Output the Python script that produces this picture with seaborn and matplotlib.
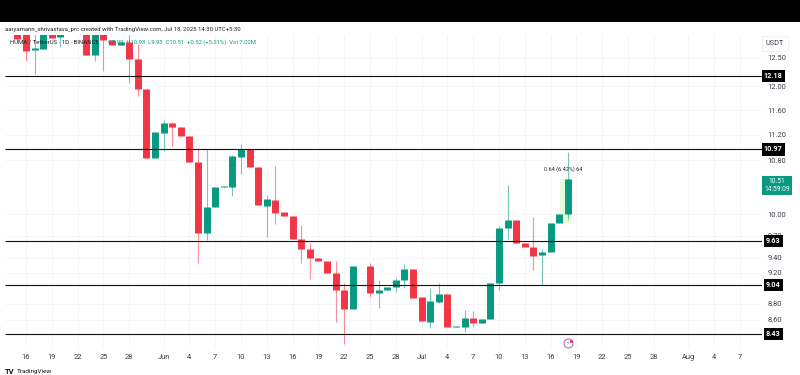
import matplotlib
matplotlib.use("Agg")
import matplotlib.pyplot as plt
import pandas as pd
import seaborn as sns

dates = ["05-15","05-16","05-17","05-18","05-19","05-20","05-23","05-24","05-25","05-26","05-27","05-28","05-29","05-30","05-31",
         "06-01","06-02","06-03","06-04","06-05","06-06","06-07","06-08","06-09","06-10","06-11","06-12","06-13","06-14","06-15",
         "06-16","06-17","06-18","06-19","06-20","06-21","06-22","06-23","06-25","06-26","06-27","06-28","06-29","06-30",
         "07-01","07-02","07-03","07-04","07-05","07-06","07-07","07-08","07-09","07-10","07-11","07-12","07-13","07-14","07-15","07-16","07-17","07-18"]
opens = [13.00,12.95,12.64,12.66,12.95,12.87,13.00,12.55,13.00,12.82,12.74,12.785,12.48,11.95,10.83,
         11.23,11.39,11.33,11.18,10.77,9.73,10.11,10.39,10.39,10.85,10.97,10.70,10.12,10.205,10.03,
         9.97,9.66,9.52,9.39,9.355,9.20,8.98,8.73,9.29,8.94,8.975,9.01,9.11,9.245,
         8.89,8.575,8.825,8.925,8.51,8.52,8.63,8.565,8.615,9.06,9.80,9.92,9.60,9.54,9.43,9.48,9.87,10.00]
closes = [12.84,12.63,12.67,12.95,12.86,12.95,12.55,13.00,12.82,12.74,12.785,12.48,11.95,10.83,11.245,
          11.39,11.32,11.18,10.78,9.73,10.11,10.39,10.41,10.87,10.97,10.70,10.13,10.22,10.02,9.97,
          9.66,9.52,9.39,9.355,9.20,8.975,8.73,9.29,8.94,8.975,9.01,9.105,9.245,8.88,
          8.59,8.835,8.925,8.51,8.53,8.625,8.565,8.61,9.06,9.80,9.92,9.60,9.54,9.425,9.48,9.87,10.00,10.51]
highs = [13.10,13.00,13.00,13.00,13.00,13.00,13.10,13.00,13.00,12.82,12.785,13.00,12.75,11.95,11.245,
         11.44,11.41,11.33,11.18,10.99,10.98,10.39,10.41,10.88,11.05,10.97,10.70,10.28,10.72,10.03,
         9.97,9.85,9.595,9.39,9.355,9.36,9.06,9.29,9.325,9.105,9.01,9.13,9.315,9.245,
         8.89,9.00,9.06,8.925,8.53,8.725,8.71,8.61,9.06,9.83,10.43,9.92,9.60,9.96,9.52,9.87,10.00,10.93]
lows = [12.82,12.45,12.215,12.66,12.86,12.70,12.55,12.45,12.27,12.74,12.74,12.06,11.84,10.83,10.83,
        10.94,11.02,11.18,10.78,9.33,9.64,10.11,10.39,10.27,10.59,10.70,10.13,9.68,9.86,9.97,
        9.66,9.33,9.115,9.355,9.20,8.58,8.31,8.73,8.89,8.75,8.975,8.955,9.00,8.88,
        8.59,8.505,8.81,8.51,8.51,8.46,8.52,8.565,8.615,8.975,9.66,9.60,9.54,9.235,9.04,9.48,9.87,9.93]
levels = [12.18, 10.97, 9.63, 9.04, 8.43]
y_ticks = [12.50, 12.00, 11.60, 11.20, 10.80, 10.00, 9.70, 9.40, 9.20, 8.80, 8.60]
x_tick_dates = ["05-16","05-19","05-22","05-25","05-28","06-01","06-04","06-07","06-10","06-13","06-16","06-19","06-22","06-25","06-28",
                "07-01","07-04","07-07","07-10","07-13","07-16","07-19","07-22","07-25","07-28","08-01","08-04","08-07"]
x_tick_labels = ["16","19","22","25","28","Jun","4","7","10","13","16","19","22","25","28",
                 "Jul","4","7","10","13","16","19","22","25","28","Aug","4","7"]

UP, DOWN = "#089981", "#F23645"
GRID, TXT = "#F5F6FA", "#3a3e49"

sns.set_theme(style="white")
plt.rcParams["font.family"] = ["Roboto", "DejaVu Sans"]
plt.rcParams["lines.solid_capstyle"] = "butt"

def ts(s):
    return pd.Timestamp("2025-" + s)

wick_rows, body_rows = [], []
for i, d in enumerate(dates):
    kind = "up" if closes[i] >= opens[i] else "down"
    for p in (lows[i], highs[i]):
        wick_rows.append(dict(id=i, date=ts(d), price=p, kind=kind))
    for p in (opens[i], closes[i]):
        body_rows.append(dict(id=i, date=ts(d), price=p, kind=kind))
wicks = pd.DataFrame(wick_rows)
bodies = pd.DataFrame(body_rows)

fig = plt.figure(figsize=(8, 3.75), dpi=100, facecolor="white")
W, H = 800, 375
ax = fig.add_axes([5 / W, 1 - 347 / H, 757 / W, 312 / H])
ax.set_yscale("log")

ax.fill_between([ts("07-17") + pd.Timedelta(hours=3), ts("07-18") + pd.Timedelta(hours=8)], 9.87, 10.51,
                color="#E6FADB", lw=0, zorder=1)

pal = {"up": UP, "down": DOWN}
sns.lineplot(data=wicks, x="date", y="price", hue="kind", palette=pal, units="id", estimator=None,
             sort=False, linewidth=0.8, alpha=0.55, legend=False, ax=ax, zorder=2)
sns.lineplot(data=bodies, x="date", y="price", hue="kind", palette=pal, units="id", estimator=None,
             sort=False, linewidth=5.0, legend=False, ax=ax, zorder=3)

for lv in levels:
    ax.axhline(lv, color="#111111", lw=0.8, zorder=4)

ax.set_ylim(8.275, 12.914)
ax.set_xlim(ts("05-16") - pd.Timedelta(days=2.44), ts("05-16") + pd.Timedelta(days=85.58))
ax.set_yticks(y_ticks)
ax.set_yticklabels([f"{v:.2f}" for v in y_ticks])
ax.minorticks_off()
ax.set_xticks([ts(d) for d in x_tick_dates])
ax.set_xticklabels(x_tick_labels)
ax.tick_params(axis="y", which="both", left=False, right=False, labelleft=False, labelright=True,
               labelsize=5.4, labelcolor=TXT, pad=4, length=0)
ax.tick_params(axis="x", bottom=False, labelsize=5.4, labelcolor=TXT, pad=5, length=0)
ax.grid(True, color=GRID, lw=0.7)
ax.set_axisbelow(True)
ax.set_xlabel("")
ax.set_ylabel("")
for s in ax.spines.values():
    s.set_visible(False)

# right-hand price tags
tf = ax.get_yaxis_transform()
for lv in levels:
    ax.annotate(f"{lv:.2f}", xy=(1, lv), xycoords=tf, xytext=(8, 0), textcoords="offset points",
                ha="center", va="center", fontsize=5.2, color="white", fontweight="bold", zorder=10,
                annotation_clip=False,
                bbox=dict(boxstyle="square,pad=0.3", fc="black", ec="black", lw=0))
ax.annotate("10.51\n14:59:09", xy=(1, 10.42), xycoords=tf, xytext=(11, 0), textcoords="offset points",
            ha="center", va="center", fontsize=4.8, color="white", linespacing=1.1, zorder=10,
            annotation_clip=False, bbox=dict(boxstyle="square,pad=0.3", fc=UP, ec=UP, lw=0))
fig.text(775 / W, 1 - 43.5 / H, "USDT", ha="center", va="center", fontsize=5.2, color=TXT,
         bbox=dict(boxstyle="square,pad=0.5", fc="white", ec="#EEF0F4", lw=0.6))

# measure label and alert icon
ax.text(ts("07-17") + pd.Timedelta(hours=10), 10.67, "0.64 (6.42%) 64", ha="center", va="center",
        fontsize=4.0, color="#222222", zorder=6)
ax.scatter([ts("07-18")], [8.32], s=42, facecolor="white", edgecolor="#B36AD6", lw=0.8, zorder=6, clip_on=False)
ax.text(ts("07-18"), 8.32, "\u26A1", ha="center", va="center", fontsize=4.6, color="#B36AD6", zorder=7,
        family=["DejaVu Sans"])
ax.scatter([ts("07-18") + pd.Timedelta(hours=8)], [8.345], s=5, color=DOWN, lw=0, zorder=8)

# header
fig.patches.append(plt.Rectangle((0, 1 - 22 / H), 1, 22 / H, transform=fig.transFigure, fc="black", ec="none"))
fig.text(5 / W, 1 - 29.5 / H, "aaryamann_shrivastava_prc created with TradingView.com, Jul 18, 2025 14:30 UTC+5:30",
         ha="left", va="center", fontsize=4.3, color="#222222")
fig.text(10 / W, 1 - 42.5 / H, "HUMA / TetherUS \u00b7 1D \u00b7 BINANCE", ha="left", va="center",
         fontsize=4.3, color="#222222", zorder=11)
fig.text(108 / W, 1 - 42.5 / H, "O9.99  H10.93  L9.93  C10.51  +0.52 (+5.21%)  Vol 7.02M", ha="left", va="center",
         fontsize=4.2, color=UP, zorder=11)

# footer
fig.text(5 / W, 1 - 372 / H, "TV", ha="left", va="center", fontsize=5.5, fontweight="bold", color="#131722")
fig.text(17 / W, 1 - 372 / H, "TradingView", ha="left", va="center", fontsize=4.6, color="#131722")

fig.savefig("out.png", dpi=100)
